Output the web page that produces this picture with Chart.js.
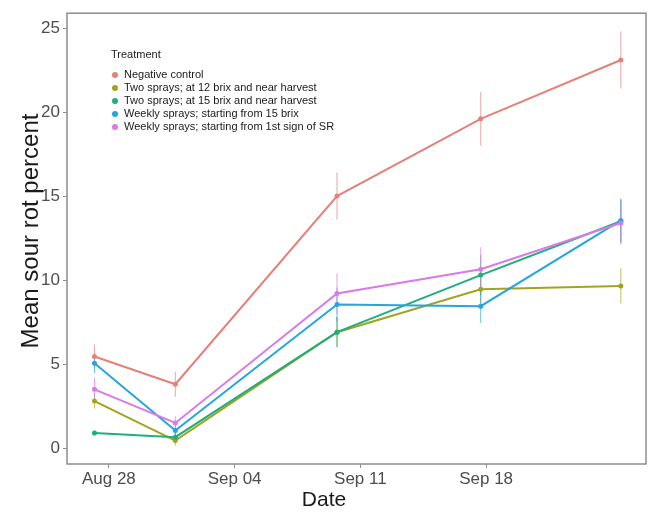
<!DOCTYPE html>
<html>
<head>
<meta charset="utf-8">
<script src="https://cdn.jsdelivr.net/npm/chart.js@4"></script>
<style>
  html, body { margin: 0; padding: 0; background: #ffffff; }
  #wrap { width: 650px; height: 512px; }
</style>
</head>
<body>
<div id="wrap"><canvas id="grafica" width="650" height="512"></canvas></div>
<script>
// Días desde el 28 de agosto
const dias = [-0.8, 3.7, 12.7, 20.7, 28.5];
const etiquetasX = { 0: 'Aug 28', 7: 'Sep 04', 14: 'Sep 11', 21: 'Sep 18' };
const ticksY = [0, 5, 10, 15, 20, 25];

const tratamientos = [
  'Negative control',
  'Two sprays; at 12 brix and near harvest',
  'Two sprays; at 15 brix and near harvest',
  'Weekly sprays; starting from 15 brix',
  'Weekly sprays; starting from 1st sign of SR'
];
const colores = ['#e4817a', '#a3a322', '#1fae7c', '#25a6dc', '#d97ae8'];

const negControl = [5.45, 3.8, 15.0, 19.6, 23.1];
const negControlErr = [0.7, 0.75, 1.4, 1.6, 1.7];
const brix12 = [2.8, 0.45, 6.9, 9.45, 9.65];
const brix12Err = [0.45, 0.3, 0.9, 1.0, 1.05];
const brix15 = [0.9, 0.65, 6.9, 10.3, 13.5];
const brix15Err = [0.15, 0.3, 0.9, 1.2, 1.3];
const weekly15 = [5.05, 1.05, 8.55, 8.45, 13.55];
const weekly15Err = [0.6, 0.4, 1.0, 1.0, 1.3];
const weeklySR = [3.5, 1.5, 9.2, 10.65, 13.4];
const weeklySRErr = [0.7, 0.4, 1.2, 1.3, 1.3];

const series = [negControl, brix12, brix15, weekly15, weeklySR];
const errores = [negControlErr, brix12Err, brix15Err, weekly15Err, weeklySRErr];

const datasets = series.map((valores, i) => ({
  label: tratamientos[i],
  data: valores.map((v, j) => ({ x: dias[j], y: v })),
  errores: errores[i],
  borderColor: colores[i],
  backgroundColor: colores[i],
  borderWidth: 2,
  pointRadius: 2.5,
  pointBorderWidth: 0,
  tension: 0,
  order: series.length - i
}));

// Barras de error, marco, leyenda y títulos
const decoracion = {
  id: 'decoracion',
  beforeDatasetsDraw(chart) {
    const ctx = chart.ctx;
    const x = chart.scales.x, y = chart.scales.y;
    ctx.save();
    chart.data.datasets.forEach(ds => {
      ctx.strokeStyle = ds.borderColor;
      ctx.globalAlpha = 0.7;
      ctx.lineWidth = 1;
      ds.data.forEach((p, j) => {
        const px = x.getPixelForValue(p.x);
        ctx.beginPath();
        ctx.moveTo(px, y.getPixelForValue(p.y - ds.errores[j]));
        ctx.lineTo(px, y.getPixelForValue(p.y + ds.errores[j]));
        ctx.stroke();
      });
    });
    ctx.restore();
  },
  afterDraw(chart) {
    const ctx = chart.ctx;
    const a = chart.chartArea;
    ctx.save();
    // marco del panel
    ctx.strokeStyle = '#8c8c8c';
    ctx.lineWidth = 1.5;
    ctx.strokeRect(a.left, a.top, a.right - a.left, a.bottom - a.top);

    // leyenda
    ctx.fillStyle = '#1a1a1a';
    ctx.font = '11px "Liberation Sans", Arial, sans-serif';
    ctx.textBaseline = 'middle';
    ctx.textAlign = 'left';
    ctx.fillText('Treatment', 111, 55);
    chart.data.datasets.forEach((ds, i) => {
      const yy = 75 + i * 13;
      ctx.fillStyle = ds.borderColor;
      ctx.beginPath();
      ctx.arc(115, yy, 3, 0, Math.PI * 2);
      ctx.fill();
      ctx.fillStyle = '#1a1a1a';
      ctx.fillText(ds.label, 124, yy);
    });

    // títulos de ejes
    ctx.fillStyle = '#1a1a1a';
    ctx.textAlign = 'center';
    ctx.font = '21px "Liberation Sans", Arial, sans-serif';
    ctx.fillText('Date', 324, 500);
    ctx.translate(31, 231);
    ctx.rotate(-Math.PI / 2);
    ctx.font = '24px "Liberation Sans", Arial, sans-serif';
    ctx.fillText('Mean sour rot percent', 0, 0);
    ctx.restore();
  }
};

new Chart(document.getElementById('grafica').getContext('2d'), {
  type: 'line',
  data: { datasets: datasets },
  options: {
    responsive: false,
    animation: false,
    layout: { padding: { left: 0, right: 3, top: 10, bottom: 0 } },
    plugins: {
      legend: { display: false },
      tooltip: { enabled: false }
    },
    scales: {
      x: {
        type: 'linear',
        min: -2.33,
        max: 29.9,
        afterBuildTicks: scale => {
          scale.ticks = Object.keys(etiquetasX).map(v => ({ value: Number(v) }));
        },
        afterFit: scale => { scale.height = 48; },
        ticks: {
          callback: v => etiquetasX[v],
          color: '#4d4d4d',
          font: { size: 17, family: '"Liberation Sans", Arial, sans-serif' },
          padding: 1,
          maxRotation: 0
        },
        grid: { drawOnChartArea: false, tickLength: 4, color: '#8c8c8c' },
        border: { display: false }
      },
      y: {
        min: -0.946,
        max: 25.887,
        afterBuildTicks: scale => {
          scale.ticks = ticksY.map(v => ({ value: v }));
        },
        afterFit: scale => { scale.width = 67; },
        ticks: {
          color: '#4d4d4d',
          font: { size: 17, family: '"Liberation Sans", Arial, sans-serif' },
          padding: 3
        },
        grid: { drawOnChartArea: false, tickLength: 4, color: '#8c8c8c' },
        border: { display: false }
      }
    }
  },
  plugins: [decoracion]
});
</script>
</body>
</html>
